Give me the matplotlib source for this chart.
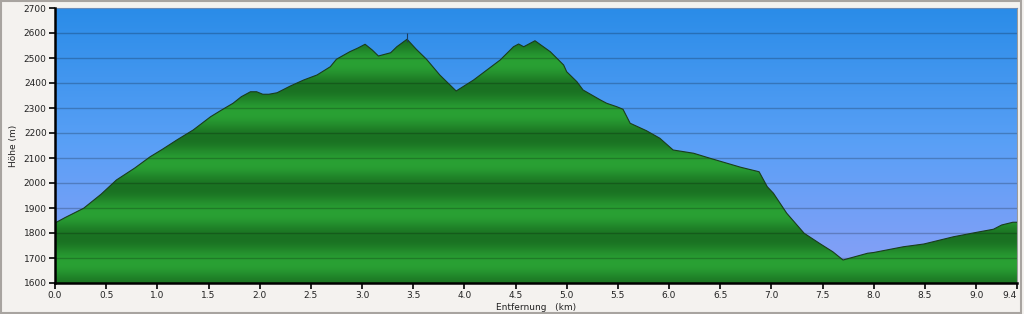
import numpy as np
import matplotlib
matplotlib.use('Agg')
import matplotlib.pyplot as plt
from matplotlib.colors import LinearSegmentedColormap
from matplotlib.patches import Rectangle

# elevation profile
dist_km = [0.00, 0.10, 0.28, 0.45, 0.60, 0.78, 0.93, 1.05, 1.19, 1.35, 1.52, 1.62,
           1.74, 1.82, 1.91, 1.97, 2.03, 2.09, 2.17, 2.30, 2.43, 2.56, 2.69, 2.75,
           2.88, 2.96, 3.03, 3.10, 3.16, 3.28, 3.34, 3.44, 3.53, 3.63, 3.76, 3.92,
           4.09, 4.22, 4.35, 4.48, 4.53, 4.58, 4.69, 4.84, 4.97, 5.00, 5.10, 5.16,
           5.33, 5.39, 5.49, 5.55, 5.62, 5.78, 5.91, 6.04, 6.24, 6.40, 6.70, 6.88,
           6.96, 7.02, 7.15, 7.32, 7.48, 7.60, 7.70, 7.94, 8.00, 8.29, 8.49, 8.78,
           9.01, 9.17, 9.25, 9.36, 9.40]
elev_m = [1840, 1862, 1899, 1955, 2012, 2060, 2105, 2135, 2172, 2212, 2265, 2290,
          2319, 2345, 2365, 2365, 2355, 2355, 2361, 2388, 2412, 2432, 2465, 2495,
          2525, 2540, 2555, 2532, 2508, 2521, 2545, 2575, 2535, 2495, 2432, 2368,
          2412, 2452, 2492, 2545, 2556, 2545, 2569, 2525, 2472, 2445, 2405, 2372,
          2332, 2319, 2305, 2295, 2239, 2209, 2179, 2132, 2119, 2099, 2063, 2045,
          1985, 1959, 1879, 1799, 1756, 1725, 1692, 1719, 1722, 1745, 1756, 1785,
          1803, 1815, 1832, 1843, 1843]

summit_km = 3.44
summit_range = (2565, 2600)

x_ticks = [0.0, 0.5, 1.0, 1.5, 2.0, 2.5, 3.0, 3.5, 4.0, 4.5, 5.0, 5.5, 6.0, 6.5,
           7.0, 7.5, 8.0, 8.5, 9.0, 9.4]
y_ticks = list(range(1600, 2701, 100))

xmin, xmax = 0.0, 9.4
ymin, ymax = 1600, 2700

fig = plt.figure(figsize=(10.24, 3.14), dpi=100, facecolor='#f4f2ef')
fig.patches.append(Rectangle((0.001, 0.002), 0.996, 0.996, transform=fig.transFigure,
                             fill=False, edgecolor='#a8a4a0', linewidth=1.5))
ax = fig.add_axes([55 / 1024, 1 - 283 / 314, 962 / 1024, 275 / 314])

# sky gradient
sky = LinearSegmentedColormap.from_list('sky', [(0, '#8c9ff7'), (0.5, '#5aa0f6'), (1, '#2a8ce8')])
grad = np.linspace(0, 1, 256).reshape(-1, 1)
ax.imshow(grad, cmap=sky, origin='lower', aspect='auto',
          extent=[xmin, xmax, ymin, ymax], zorder=0)

# banded green fill, clipped to the profile
elev_grid = np.linspace(ymin, ymax, 1100).reshape(-1, 1)
shade = 0.5 + 0.5 * np.cos(2 * np.pi * (elev_grid - 1880) / 200)
green = LinearSegmentedColormap.from_list('green', ['#1a7122', '#2aa134'])
poly = ax.fill_between(dist_km, elev_m, ymin, facecolor='none', edgecolor='none', zorder=1)
im = ax.imshow(shade, cmap=green, origin='lower', aspect='auto',
               extent=[xmin, xmax, ymin, ymax], zorder=1)
im.set_clip_path(poly.get_paths()[0], transform=ax.transData)
ax.plot(dist_km, elev_m, color='#1a3d1c', linewidth=0.8, zorder=3)
ax.vlines(summit_km, *summit_range, color='#1a3d60', linewidth=0.8, zorder=3)

# grid
for yv in y_ticks[1:-1]:
    ax.axhline(yv, color='black', alpha=0.22, linewidth=1.0, zorder=2)

ax.set_xlim(xmin, xmax)
ax.set_ylim(ymin, ymax)
ax.set_xticks(x_ticks)
ax.set_xticklabels(['%.1f' % v for v in x_ticks])
ax.get_xticklabels()[-1].set_horizontalalignment('right')
ax.set_yticks(y_ticks)
ax.tick_params(direction='out', length=4, width=1.2, labelsize=6.5,
               colors='black', labelcolor='#222222', pad=2)

for side in ['left', 'bottom']:
    ax.spines[side].set_linewidth(1.8)
    ax.spines[side].set_color('black')
    ax.spines[side].set_zorder(5)
ax.spines['top'].set_color('#6c8cb8')
ax.spines['top'].set_linewidth(0.8)
ax.spines['right'].set_color('#9a9a9a')
ax.spines['right'].set_linewidth(0.8)

ax.set_xlabel('Entfernung   (km)', fontsize=6.5, color='#222222', labelpad=2)
ax.set_ylabel('Höhe (m)', fontsize=6.5, color='#222222', labelpad=4)

fig.savefig('out.png', dpi=100, facecolor=fig.get_facecolor())
